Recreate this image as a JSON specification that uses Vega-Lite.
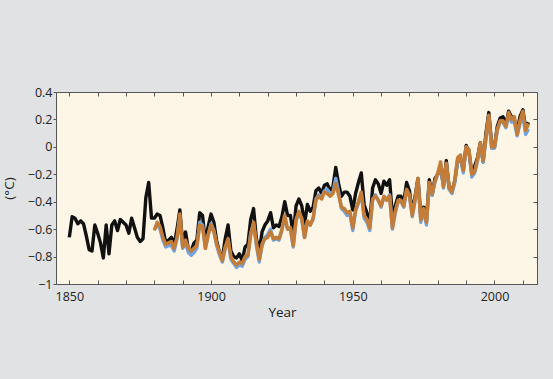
{
"$schema": "https://vega.github.io/schema/vega-lite/v6.json",
"width": 481, "height": 192,
"autosize": {"type": "none"},
"padding": {"left": 56, "top": 92, "right": 16, "bottom": 95},
"background": "#e1e2e4",
"config": {
  "view": {"fill": "#fdf6e6", "stroke": "#555555", "strokeWidth": 1},
  "axis": {"labelFont": "Open Sans", "titleFont": "Open Sans", "labelFontSize": 12.5, "titleFontSize": 13.5, "titleFontWeight": "normal", "labelColor": "#222222", "titleColor": "#222222", "tickColor": "#555555", "grid": false, "domain": false, "labelFlush": false, "labelOverlap": false}
},
"datasets": {
  "black": [
    {"year":1850,"t":-0.66},{"year":1851,"t":-0.51},{"year":1852,"t":-0.52},{"year":1853,"t":-0.56},{"year":1854,"t":-0.54},{"year":1855,"t":-0.56},{"year":1856,"t":-0.65},{"year":1857,"t":-0.75},{"year":1858,"t":-0.76},{"year":1859,"t":-0.57},
    {"year":1860,"t":-0.63},{"year":1861,"t":-0.70},{"year":1862,"t":-0.81},{"year":1863,"t":-0.57},{"year":1864,"t":-0.78},{"year":1865,"t":-0.57},{"year":1866,"t":-0.54},{"year":1867,"t":-0.61},{"year":1868,"t":-0.53},{"year":1869,"t":-0.55},
    {"year":1870,"t":-0.57},{"year":1871,"t":-0.63},{"year":1872,"t":-0.52},{"year":1873,"t":-0.59},{"year":1874,"t":-0.66},{"year":1875,"t":-0.69},{"year":1876,"t":-0.67},{"year":1877,"t":-0.37},{"year":1878,"t":-0.26},{"year":1879,"t":-0.52},
    {"year":1880,"t":-0.52},{"year":1881,"t":-0.49},{"year":1882,"t":-0.50},{"year":1883,"t":-0.59},{"year":1884,"t":-0.70},{"year":1885,"t":-0.68},{"year":1886,"t":-0.66},{"year":1887,"t":-0.71},{"year":1888,"t":-0.60},{"year":1889,"t":-0.46},
    {"year":1890,"t":-0.71},{"year":1891,"t":-0.62},{"year":1892,"t":-0.75},{"year":1893,"t":-0.76},{"year":1894,"t":-0.70},{"year":1895,"t":-0.68},{"year":1896,"t":-0.48},{"year":1897,"t":-0.50},{"year":1898,"t":-0.70},{"year":1899,"t":-0.58},
    {"year":1900,"t":-0.49},{"year":1901,"t":-0.55},{"year":1902,"t":-0.69},{"year":1903,"t":-0.77},{"year":1904,"t":-0.81},{"year":1905,"t":-0.67},{"year":1906,"t":-0.57},{"year":1907,"t":-0.76},{"year":1908,"t":-0.80},{"year":1909,"t":-0.81},
    {"year":1910,"t":-0.78},{"year":1911,"t":-0.83},{"year":1912,"t":-0.73},{"year":1913,"t":-0.71},{"year":1914,"t":-0.53},{"year":1915,"t":-0.45},{"year":1916,"t":-0.67},{"year":1917,"t":-0.76},{"year":1918,"t":-0.62},{"year":1919,"t":-0.57},
    {"year":1920,"t":-0.54},{"year":1921,"t":-0.48},{"year":1922,"t":-0.59},{"year":1923,"t":-0.57},{"year":1924,"t":-0.58},{"year":1925,"t":-0.51},{"year":1926,"t":-0.40},{"year":1927,"t":-0.50},{"year":1928,"t":-0.50},{"year":1929,"t":-0.64},
    {"year":1930,"t":-0.43},{"year":1931,"t":-0.38},{"year":1932,"t":-0.43},{"year":1933,"t":-0.56},{"year":1934,"t":-0.42},{"year":1935,"t":-0.47},{"year":1936,"t":-0.44},{"year":1937,"t":-0.32},{"year":1938,"t":-0.30},{"year":1939,"t":-0.34},
    {"year":1940,"t":-0.28},{"year":1941,"t":-0.27},{"year":1942,"t":-0.32},{"year":1943,"t":-0.29},{"year":1944,"t":-0.15},{"year":1945,"t":-0.27},{"year":1946,"t":-0.36},{"year":1947,"t":-0.33},{"year":1948,"t":-0.33},{"year":1949,"t":-0.36},
    {"year":1950,"t":-0.46},{"year":1951,"t":-0.34},{"year":1952,"t":-0.26},{"year":1953,"t":-0.19},{"year":1954,"t":-0.42},{"year":1955,"t":-0.48},{"year":1956,"t":-0.56},{"year":1957,"t":-0.30},{"year":1958,"t":-0.24},{"year":1959,"t":-0.27},
    {"year":1960,"t":-0.34},{"year":1961,"t":-0.25},{"year":1962,"t":-0.28},{"year":1963,"t":-0.24},{"year":1964,"t":-0.51},{"year":1965,"t":-0.43},{"year":1966,"t":-0.36},{"year":1967,"t":-0.36},{"year":1968,"t":-0.40},{"year":1969,"t":-0.26},
    {"year":1970,"t":-0.32},{"year":1971,"t":-0.48},{"year":1972,"t":-0.36},{"year":1973,"t":-0.23},{"year":1974,"t":-0.50},{"year":1975,"t":-0.44},{"year":1976,"t":-0.53},{"year":1977,"t":-0.24},{"year":1978,"t":-0.35},{"year":1979,"t":-0.23},
    {"year":1980,"t":-0.20},{"year":1981,"t":-0.15},{"year":1982,"t":-0.28},{"year":1983,"t":-0.10},{"year":1984,"t":-0.30},{"year":1985,"t":-0.32},{"year":1986,"t":-0.25},{"year":1987,"t":-0.10},{"year":1988,"t":-0.09},{"year":1989,"t":-0.17},
    {"year":1990,"t":0.01},{"year":1991,"t":-0.04},{"year":1992,"t":-0.19},{"year":1993,"t":-0.14},{"year":1994,"t":-0.08},{"year":1995,"t":0.03},{"year":1996,"t":-0.11},{"year":1997,"t":0.10},{"year":1998,"t":0.25},{"year":1999,"t":0.02},
    {"year":2000,"t":0.00},{"year":2001,"t":0.15},{"year":2002,"t":0.21},{"year":2003,"t":0.22},{"year":2004,"t":0.16},{"year":2005,"t":0.26},{"year":2006,"t":0.22},{"year":2007,"t":0.20},{"year":2008,"t":0.11},{"year":2009,"t":0.22},
    {"year":2010,"t":0.27},{"year":2011,"t":0.14},{"year":2012,"t":0.18}
  ],
  "blue": [
    {"year":1880,"t":-0.60},{"year":1881,"t":-0.57},{"year":1882,"t":-0.60},{"year":1883,"t":-0.68},{"year":1884,"t":-0.73},{"year":1885,"t":-0.72},{"year":1886,"t":-0.72},{"year":1887,"t":-0.76},{"year":1888,"t":-0.67},{"year":1889,"t":-0.52},
    {"year":1890,"t":-0.74},{"year":1891,"t":-0.70},{"year":1892,"t":-0.77},{"year":1893,"t":-0.79},{"year":1894,"t":-0.77},{"year":1895,"t":-0.74},{"year":1896,"t":-0.55},{"year":1897,"t":-0.57},{"year":1898,"t":-0.74},{"year":1899,"t":-0.64},
    {"year":1900,"t":-0.56},{"year":1901,"t":-0.61},{"year":1902,"t":-0.72},{"year":1903,"t":-0.79},{"year":1904,"t":-0.84},{"year":1905,"t":-0.74},{"year":1906,"t":-0.68},{"year":1907,"t":-0.82},{"year":1908,"t":-0.85},{"year":1909,"t":-0.88},
    {"year":1910,"t":-0.86},{"year":1911,"t":-0.87},{"year":1912,"t":-0.82},{"year":1913,"t":-0.80},{"year":1914,"t":-0.63},{"year":1915,"t":-0.56},{"year":1916,"t":-0.72},{"year":1917,"t":-0.84},{"year":1918,"t":-0.72},{"year":1919,"t":-0.66},
    {"year":1920,"t":-0.64},{"year":1921,"t":-0.60},{"year":1922,"t":-0.68},{"year":1923,"t":-0.67},{"year":1924,"t":-0.68},{"year":1925,"t":-0.61},{"year":1926,"t":-0.51},{"year":1927,"t":-0.60},{"year":1928,"t":-0.60},{"year":1929,"t":-0.73},
    {"year":1930,"t":-0.54},{"year":1931,"t":-0.48},{"year":1932,"t":-0.53},{"year":1933,"t":-0.66},{"year":1934,"t":-0.55},{"year":1935,"t":-0.57},{"year":1936,"t":-0.53},{"year":1937,"t":-0.38},{"year":1938,"t":-0.35},{"year":1939,"t":-0.37},
    {"year":1940,"t":-0.32},{"year":1941,"t":-0.31},{"year":1942,"t":-0.34},{"year":1943,"t":-0.33},{"year":1944,"t":-0.23},{"year":1945,"t":-0.33},{"year":1946,"t":-0.45},{"year":1947,"t":-0.47},{"year":1948,"t":-0.50},{"year":1949,"t":-0.49},
    {"year":1950,"t":-0.61},{"year":1951,"t":-0.47},{"year":1952,"t":-0.41},{"year":1953,"t":-0.34},{"year":1954,"t":-0.52},{"year":1955,"t":-0.55},{"year":1956,"t":-0.61},{"year":1957,"t":-0.39},{"year":1958,"t":-0.35},{"year":1959,"t":-0.39},
    {"year":1960,"t":-0.44},{"year":1961,"t":-0.37},{"year":1962,"t":-0.38},{"year":1963,"t":-0.35},{"year":1964,"t":-0.60},{"year":1965,"t":-0.48},{"year":1966,"t":-0.40},{"year":1967,"t":-0.40},{"year":1968,"t":-0.44},{"year":1969,"t":-0.32},
    {"year":1970,"t":-0.36},{"year":1971,"t":-0.51},{"year":1972,"t":-0.39},{"year":1973,"t":-0.24},{"year":1974,"t":-0.55},{"year":1975,"t":-0.47},{"year":1976,"t":-0.57},{"year":1977,"t":-0.27},{"year":1978,"t":-0.35},{"year":1979,"t":-0.26},
    {"year":1980,"t":-0.20},{"year":1981,"t":-0.13},{"year":1982,"t":-0.30},{"year":1983,"t":-0.13},{"year":1984,"t":-0.31},{"year":1985,"t":-0.34},{"year":1986,"t":-0.26},{"year":1987,"t":-0.10},{"year":1988,"t":-0.08},{"year":1989,"t":-0.19},
    {"year":1990,"t":0.00},{"year":1991,"t":-0.03},{"year":1992,"t":-0.22},{"year":1993,"t":-0.19},{"year":1994,"t":-0.11},{"year":1995,"t":0.02},{"year":1996,"t":-0.11},{"year":1997,"t":0.06},{"year":1998,"t":0.22},{"year":1999,"t":-0.01},
    {"year":2000,"t":-0.01},{"year":2001,"t":0.12},{"year":2002,"t":0.18},{"year":2003,"t":0.18},{"year":2004,"t":0.14},{"year":2005,"t":0.22},{"year":2006,"t":0.18},{"year":2007,"t":0.18},{"year":2008,"t":0.08},{"year":2009,"t":0.17},
    {"year":2010,"t":0.23},{"year":2011,"t":0.09},{"year":2012,"t":0.13}
  ],
  "orange": [
    {"year":1880,"t":-0.61},{"year":1881,"t":-0.55},{"year":1882,"t":-0.58},{"year":1883,"t":-0.66},{"year":1884,"t":-0.71},{"year":1885,"t":-0.70},{"year":1886,"t":-0.69},{"year":1887,"t":-0.74},{"year":1888,"t":-0.66},{"year":1889,"t":-0.49},
    {"year":1890,"t":-0.73},{"year":1891,"t":-0.68},{"year":1892,"t":-0.74},{"year":1893,"t":-0.76},{"year":1894,"t":-0.74},{"year":1895,"t":-0.72},{"year":1896,"t":-0.57},{"year":1897,"t":-0.58},{"year":1898,"t":-0.74},{"year":1899,"t":-0.64},
    {"year":1900,"t":-0.57},{"year":1901,"t":-0.62},{"year":1902,"t":-0.71},{"year":1903,"t":-0.77},{"year":1904,"t":-0.83},{"year":1905,"t":-0.73},{"year":1906,"t":-0.67},{"year":1907,"t":-0.80},{"year":1908,"t":-0.84},{"year":1909,"t":-0.86},
    {"year":1910,"t":-0.84},{"year":1911,"t":-0.85},{"year":1912,"t":-0.80},{"year":1913,"t":-0.79},{"year":1914,"t":-0.64},{"year":1915,"t":-0.55},{"year":1916,"t":-0.70},{"year":1917,"t":-0.82},{"year":1918,"t":-0.71},{"year":1919,"t":-0.67},
    {"year":1920,"t":-0.66},{"year":1921,"t":-0.62},{"year":1922,"t":-0.67},{"year":1923,"t":-0.66},{"year":1924,"t":-0.67},{"year":1925,"t":-0.60},{"year":1926,"t":-0.50},{"year":1927,"t":-0.60},{"year":1928,"t":-0.59},{"year":1929,"t":-0.72},
    {"year":1930,"t":-0.53},{"year":1931,"t":-0.47},{"year":1932,"t":-0.52},{"year":1933,"t":-0.66},{"year":1934,"t":-0.54},{"year":1935,"t":-0.57},{"year":1936,"t":-0.52},{"year":1937,"t":-0.39},{"year":1938,"t":-0.36},{"year":1939,"t":-0.38},
    {"year":1940,"t":-0.33},{"year":1941,"t":-0.34},{"year":1942,"t":-0.36},{"year":1943,"t":-0.34},{"year":1944,"t":-0.27},{"year":1945,"t":-0.35},{"year":1946,"t":-0.44},{"year":1947,"t":-0.45},{"year":1948,"t":-0.48},{"year":1949,"t":-0.47},
    {"year":1950,"t":-0.59},{"year":1951,"t":-0.46},{"year":1952,"t":-0.40},{"year":1953,"t":-0.33},{"year":1954,"t":-0.50},{"year":1955,"t":-0.53},{"year":1956,"t":-0.59},{"year":1957,"t":-0.38},{"year":1958,"t":-0.36},{"year":1959,"t":-0.39},
    {"year":1960,"t":-0.43},{"year":1961,"t":-0.36},{"year":1962,"t":-0.39},{"year":1963,"t":-0.36},{"year":1964,"t":-0.59},{"year":1965,"t":-0.47},{"year":1966,"t":-0.39},{"year":1967,"t":-0.39},{"year":1968,"t":-0.43},{"year":1969,"t":-0.31},
    {"year":1970,"t":-0.35},{"year":1971,"t":-0.50},{"year":1972,"t":-0.38},{"year":1973,"t":-0.23},{"year":1974,"t":-0.53},{"year":1975,"t":-0.45},{"year":1976,"t":-0.55},{"year":1977,"t":-0.26},{"year":1978,"t":-0.34},{"year":1979,"t":-0.25},
    {"year":1980,"t":-0.19},{"year":1981,"t":-0.11},{"year":1982,"t":-0.29},{"year":1983,"t":-0.12},{"year":1984,"t":-0.30},{"year":1985,"t":-0.33},{"year":1986,"t":-0.24},{"year":1987,"t":-0.08},{"year":1988,"t":-0.06},{"year":1989,"t":-0.17},
    {"year":1990,"t":0.00},{"year":1991,"t":-0.02},{"year":1992,"t":-0.20},{"year":1993,"t":-0.18},{"year":1994,"t":-0.09},{"year":1995,"t":0.03},{"year":1996,"t":-0.10},{"year":1997,"t":0.07},{"year":1998,"t":0.23},{"year":1999,"t":0.00},
    {"year":2000,"t":0.00},{"year":2001,"t":0.13},{"year":2002,"t":0.19},{"year":2003,"t":0.19},{"year":2004,"t":0.15},{"year":2005,"t":0.25},{"year":2006,"t":0.20},{"year":2007,"t":0.22},{"year":2008,"t":0.09},{"year":2009,"t":0.19},
    {"year":2010,"t":0.26},{"year":2011,"t":0.12},{"year":2012,"t":0.17}
  ]
},
"layer": [
  {
    "data": {"name": "black"},
    "mark": {"type": "line", "color": "#111111", "strokeWidth": 3.4, "strokeJoin": "round"},
    "encoding": {
      "x": {"field": "year", "type": "quantitative", "scale": {"domain": [1845.3, 2015], "nice": false, "zero": false},
        "axis": {"orient": "bottom", "values": [1850,1860,1870,1880,1890,1900,1910,1920,1930,1940,1950,1960,1970,1980,1990,2000,2010], "format": "d", "labelExpr": "datum.value % 50 === 0 ? datum.label : ''", "tickSize": -4, "labelPadding": 10, "title": "Year", "titleX": 226, "titleY": 28, "titleBaseline": "middle", "titleAnchor": null}},
      "y": {"field": "t", "type": "quantitative", "scale": {"domain": [-1, 0.4], "nice": false, "zero": false},
        "axis": {"orient": "left", "values": [-1, -0.8, -0.6, -0.4, -0.2, 0, 0.2, 0.4], "format": ".1~f", "tickSize": 3, "labelPadding": 1, "title": "(°C)", "titleX": -47, "titleY": 96, "titleAngle": -90, "titleAlign": "center", "titleBaseline": "middle"}}
    }
  },
  {
    "data": {"name": "blue"},
    "mark": {"type": "line", "color": "#74a3dc", "strokeWidth": 3.4, "strokeJoin": "round"},
    "encoding": {
      "x": {"field": "year", "type": "quantitative", "axis": {"orient": "top", "values": [1850,1860,1870,1880,1890,1900,1910,1920,1930,1940,1950,1960,1970,1980,1990,2000,2010], "labels": false, "tickSize": -4, "title": null}},
      "y": {"field": "t", "type": "quantitative", "axis": {"orient": "right", "values": [-1, -0.8, -0.6, -0.4, -0.2, 0, 0.2, 0.4], "labels": false, "tickSize": -4, "title": null}}
    }
  },
  {
    "data": {"name": "orange"},
    "mark": {"type": "line", "color": "#c47d38", "strokeWidth": 3.5, "strokeJoin": "round"},
    "encoding": {
      "x": {"field": "year", "type": "quantitative", "axis": null},
      "y": {"field": "t", "type": "quantitative", "axis": null}
    }
  }
],
"resolve": {"axis": {"x": "independent", "y": "independent"}}
}
